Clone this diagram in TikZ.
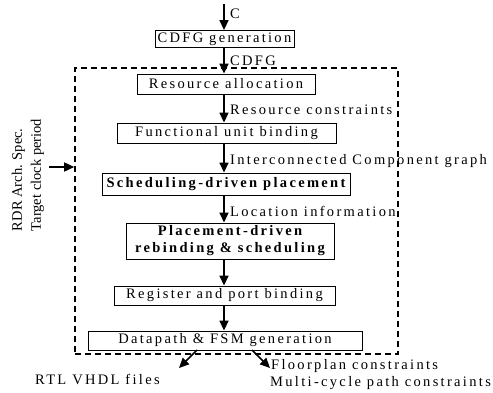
\documentclass[tikz,border=0pt]{standalone}
\usepackage{fontspec}
\setmainfont{Liberation Serif}
\newfontfamily\spacedfont{Liberation Serif}[LetterSpace=16]
\usetikzlibrary{arrows.meta}
\begin{document}
\begin{tikzpicture}[x=1pt,y=-1pt,
  stagebox/.style={draw,line width=0.9pt,inner sep=0pt,align=center,
    font=\spacedfont\fontsize{14.5}{17}\selectfont},
  flow/.style={line width=1.6pt,-{Triangle[length=10pt,width=9pt]}},
  flowlabel/.style={anchor=west,inner sep=0pt,
    font=\spacedfont\fontsize{14.5}{17}\selectfont},
  plainlabel/.style={inner sep=0pt,font=\fontsize{14.5}{19}\selectfont}]
\useasboundingbox (0,0) rectangle (493,392);

% the synthesis core, framed by a dashed box
\node[draw,dashed,line width=1.6pt,dash pattern=on 6pt off 4pt,
      minimum width=323pt,minimum height=286pt,inner sep=0pt] (core) at (236.5,211) {};

% stages of the flow
\node[stagebox,minimum width=139pt,minimum height=17pt] (cdfg) at (224.5,39) {CDFG generation};
\node[stagebox,minimum width=178pt,minimum height=20pt] (ra)   at (226,84) {Resource allocation};
\node[stagebox,minimum width=219pt,minimum height=20pt] (fub)  at (226.5,133) {Functional unit binding};
\node[stagebox,minimum width=248pt,minimum height=22pt,font=\spacedfont\bfseries\fontsize{14.5}{17}\selectfont] (sdp) at (226,184) {Scheduling-driven placement};
\node[stagebox,minimum width=208pt,minimum height=36pt,font=\spacedfont\bfseries\fontsize{14.5}{17}\selectfont] (pdr) at (230,241) {Placement-driven\\rebinding \& scheduling};
\node[stagebox,minimum width=221pt,minimum height=19pt] (rpb)  at (224.5,295.5) {Register and port binding};
\node[stagebox,minimum width=274pt,minimum height=19pt] (dfg)  at (225,340.5) {Datapath \& FSM generation};

% input and vertical flow
\coordinate (cin) at (224,4);
\draw[flow] (cin) -- (cdfg.north -| cin);
\node[flowlabel] (clab) at (230,14) {C};
\draw[flow] (cdfg.south -| cin) -- (ra.north -| cin);
\node[flowlabel] (cdfglab) at (230,61) {CDFG};
\draw[flow] (ra.south -| cin) -- (fub.north -| cin);
\node[flowlabel] (rclab) at (230,110) {Resource constraints};
\draw[flow] (fub.south -| cin) -- (sdp.north -| cin);
\node[flowlabel] (icglab) at (230,161) {Interconnected Component graph};
\draw[flow] (sdp.south -| cin) -- (pdr.north -| cin);
\node[flowlabel] (loclab) at (230,211) {Location information};
\draw[flow] (pdr.south -| cin) -- (rpb.north -| cin);
\draw[flow] (rpb.south -| cin) -- (dfg.north -| cin);

% architecture input on the left
\node[plainlabel,rotate=90,align=left] (spec) at (28,175) {RDR Arch. Spec.\\Target clock period};
\coordinate (specout) at (49,167);
\draw[flow] (specout) -- (core.west |- specout);

% outputs
\coordinate (rtlsrc) at (197,350);
\coordinate (rtltip) at (179,368);
\coordinate (consrc) at (252,350);
\coordinate (contip) at (270,368);
\draw[flow] (rtlsrc) -- (rtltip);
\draw[flow] (consrc) -- (contip);
\node[flowlabel] (rtl) at (35,379) {RTL VHDL files};
\node[flowlabel] (fpc) at (271,366) {Floorplan constraints};
\node[flowlabel] (mcp) at (270,383) {Multi-cycle path constraints};
\end{tikzpicture}
\end{document}
